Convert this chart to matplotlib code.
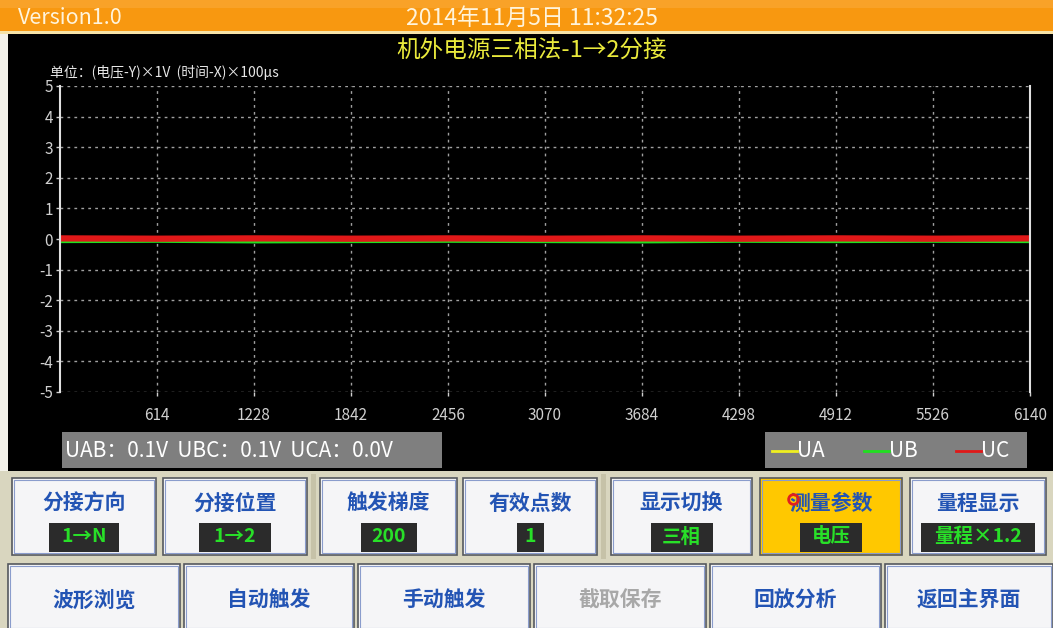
import matplotlib
matplotlib.use("Agg")
import matplotlib.pyplot as plt
from matplotlib.patches import Rectangle

plt.rcParams['font.family'] = ['Noto Sans CJK SC', 'DejaVu Sans']
plt.rcParams['axes.unicode_minus'] = False

# waveform samples (time x100us, volts)
t = [0, 614, 1228, 1842, 2456, 3070, 3684, 4298, 4912, 5526, 6140]
ua = [-0.06, -0.05, -0.06, -0.05, -0.06, -0.05, -0.06, -0.05, -0.06, -0.05, -0.06]
ub = [-0.09, -0.08, -0.10, -0.09, -0.08, -0.09, -0.10, -0.08, -0.09, -0.08, -0.09]
uc = [0.02, 0.01, 0.02, 0.01, 0.02, 0.01, 0.02, 0.01, 0.02, 0.01, 0.02]
xticks = [614, 1228, 1842, 2456, 3070, 3684, 4298, 4912, 5526, 6140]
yticks = [-5, -4, -3, -2, -1, 0, 1, 2, 3, 4, 5]

title = "机外电源三相法-1→2分接"
version = "Version1.0"
stamp = "2014年11月5日 11:32:25"
unit_text = "单位：(电压-Y)×1V  (时间-X)×100μs"
stats = "UAB：0.1V  UBC：0.1V  UCA：0.0V"
legend_names = ["UA", "UB", "UC"]
legend_colors = ["#f0f020", "#20e020", "#e01818"]

row1_labels = ["分接方向", "分接位置", "触发梯度", "有效点数", "显示切换", "测量参数", "量程显示"]
row1_values = ["1→N", "1→2", "200", "1", "三相", "电压", "量程×1.2"]
row2_labels = ["波形浏览", "自动触发", "手动触发", "截取保存", "回放分析", "返回主界面"]

W, H = 1053, 628
fig = plt.figure(figsize=(W / 100, H / 100), dpi=100)
fig.patch.set_facecolor('#f4f2ea')

bg = fig.add_axes([0, 0, 1, 1])
bg.set_xlim(0, W)
bg.set_ylim(H, 0)
bg.axis('off')

def box(x0, y0, x1, y1, fc, ec='none', lw=0, z=1):
    bg.add_patch(Rectangle((x0, y0), x1 - x0, y1 - y0, facecolor=fc,
                           edgecolor=ec, linewidth=lw, zorder=z))

# header bar
box(0, 0, W, 32, '#f89810')
box(0, 0, W, 8, '#f9a228')
box(0, 31, W, 34, '#f6e3a8')
bg.text(18, 18, version, color='#fff4dc', fontsize=15.5, va='center', ha='left')
bg.text(532, 18, stamp, color='#fff4dc', fontsize=16.5, va='center', ha='center')

# black screen
box(8, 34, W, 471, '#000000')
bg.text(532, 51, title, color='#eaea3c', fontsize=17, va='center', ha='center')
bg.text(50, 72, unit_text, color='#e8e8e8', fontsize=10, va='center', ha='left')

# stats and legend panels
box(62, 432, 442, 468, '#7f7f7f')
bg.text(65, 451, stats, color='#ffffff', fontsize=15, va='center', ha='left')
box(765, 432, 1027, 468, '#7f7f7f')
for i, (name, col) in enumerate(zip(legend_names, legend_colors)):
    x0 = 772 + i * 92
    bg.plot([x0, x0 + 25], [451, 451], color=col, lw=2, zorder=3)
    bg.text(x0 + 25, 451, name, color='#ffffff', fontsize=15, va='center', ha='left')

# button panel
box(0, 471, W, H, '#d9d6bf')
box(311, 474, 316, 559, '#c6c2a8')
box(601, 474, 606, 559, '#c6c2a8')

def button(x0, y0, x1, y1, fc='#f5f5f7'):
    box(x0, y0, x1, y1, fc, ec='#55585e', lw=1.2, z=2)
    box(x0 + 2, y0 + 2, x1 - 2, y1 - 2, 'none', ec='#8a9ccc', lw=0.8, z=3)

row1_x = [(12, 156), (163, 307), (320, 457), (463, 597), (611, 752), (760, 902), (910, 1046)]
val_w = [70, 72, 56, 27, 62, 62, 114]
for i, ((x0, x1), lab, val) in enumerate(zip(row1_x, row1_labels, row1_values)):
    button(x0, 478, x1, 555, '#ffc800' if i == 5 else '#f5f5f7')
    cx = (x0 + x1) / 2
    bg.text(cx, 503, lab, color='#2354b4', fontsize=15, fontweight='bold',
            va='center', ha='center', zorder=4)
    hw = val_w[i] / 2
    box(cx - hw, 523, cx + hw, 552, '#2b2b2b', z=4)
    bg.text(cx, 537, val, color='#28e028', fontsize=14, fontweight='bold',
            va='center', ha='center', zorder=5)
bg.plot([793], [499], marker='o', ms=7, mfc='none', mec='#e02020', mew=2, zorder=6)

row2_x = [(8, 180), (184, 354), (358, 530), (534, 706), (710, 881), (885, 1053)]
for i, ((x0, x1), lab) in enumerate(zip(row2_x, row2_labels)):
    button(x0, 564, x1, 630)
    bg.text((x0 + x1) / 2, 600, lab, color='#a8a8a8' if i == 3 else '#2354b4',
            fontsize=15, fontweight='bold', va='center', ha='center', zorder=4)

# waveform axes
ax = fig.add_axes([60 / W, 1 - 392 / H, 970 / W, 306 / H])
ax.set_facecolor('#000000')
ax.plot(t, ua, color=legend_colors[0], lw=1.5)
ax.plot(t, ub, color=legend_colors[1], lw=2)
ax.plot(t, uc, color=legend_colors[2], lw=4.5)
ax.set_xlim(0, 6140)
ax.set_ylim(-5, 5)
ax.set_xticks(xticks)
ax.set_yticks(yticks)
ax.grid(True, color='#a0a0a0', linestyle=(0, (2, 3)), linewidth=1)
for s in ['top', 'bottom']:
    ax.spines[s].set_visible(False)
for s in ['left', 'right']:
    ax.spines[s].set_color('#e0e0e0')
    ax.spines[s].set_linewidth(1.5)
ax.tick_params(colors='#d0d0d0', labelsize=11, length=3, width=1)
ax.tick_params(axis='x', pad=8)
ax.tick_params(axis='y', pad=2)

fig.savefig('out.png', dpi=100, facecolor=fig.get_facecolor())
